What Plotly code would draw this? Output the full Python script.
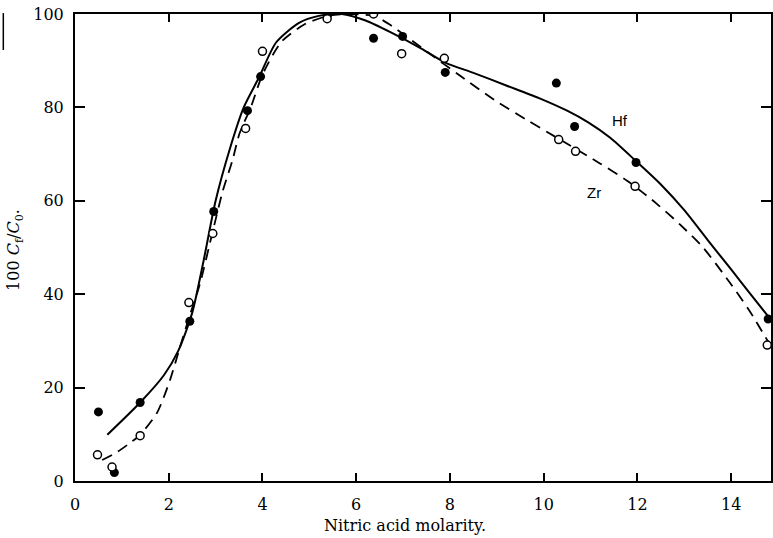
import plotly.graph_objects as go

# Measured points (filled = Hf, open = Zr)
hf_x = [0.5, 0.84, 1.39, 2.45, 2.96, 3.68, 3.96, 5.4, 6.37, 6.99, 7.9, 10.27, 10.66, 11.97, 14.79]
hf_y = [14.8, 1.8, 16.8, 34.2, 57.7, 79.3, 86.6, 100, 94.8, 95.2, 87.5, 85.2, 75.9, 68.2, 34.7]
zr_x = [0.48, 0.79, 1.39, 2.43, 2.94, 3.64, 4.0, 5.38, 6.37, 6.97, 7.88, 10.32, 10.68, 11.95, 14.77]
zr_y = [5.6, 3.0, 9.7, 38.2, 53, 75.5, 92, 99, 100, 91.5, 90.5, 73.1, 70.6, 63.1, 29.1]

# Hand-drawn smooth curves
hf_curve_x = [0.69, 1.39, 1.9, 2.2, 2.5, 2.75, 3.0, 3.3, 3.6, 3.93, 4.29, 4.78, 5.2, 5.69,
              6.2, 6.75, 7.39, 7.9, 8.5, 9.2, 9.9, 10.5, 10.95, 11.42, 11.97, 12.5, 13.0, 13.5,
              14.0, 14.4, 14.85]
hf_curve_y = [9.9, 16.8, 22.7, 27.8, 36.0, 47.5, 60.0, 71.0, 80.0, 86.5, 93.9, 98.1, 99.6, 100,
              98.6, 96, 92.6, 89.6, 87.4, 84.7, 82.0, 79.3, 76.8, 73.5, 68.5, 63.5, 58.0, 51.6,
              45.3, 40.2, 34.5]
zr_curve_x = [0.58, 0.9, 1.18, 1.39, 1.75, 2.03, 2.24, 2.45, 2.66, 2.94, 3.15, 3.36, 3.51, 3.75, 4.0,
              4.4, 4.9, 5.4, 5.9, 6.4, 6.75, 7.54, 8.24, 8.96, 9.66, 10.3, 11.2, 11.78, 12.42,
              12.9, 13.4, 13.97, 14.4, 14.85]
zr_curve_y = [4.5, 6.2, 8.2, 9.9, 14.6, 21.7, 28.7, 35.5, 42, 53.5, 62, 68.7, 74.4, 80, 87,
              94, 97.8, 99.6, 100, 99.5, 97.5, 91.7, 86.6, 81.5, 77.2, 73.4, 68.0, 64.3, 59.3,
              55.0, 50.0, 42.5, 36.3, 28.8]

x_ticks = [0, 2, 4, 6, 8, 10, 12, 14]
y_ticks = [0, 20, 40, 60, 80, 100]

fig = go.Figure()
fig.add_trace(go.Scatter(x=hf_curve_x, y=hf_curve_y, mode="lines",
                         line=dict(color="black", width=2, shape="spline", smoothing=0.7),
                         hoverinfo="skip"))
fig.add_trace(go.Scatter(x=zr_curve_x, y=zr_curve_y, mode="lines",
                         line=dict(color="black", width=1.8, shape="spline", smoothing=0.7, dash="11px,7px"),
                         hoverinfo="skip"))
fig.add_trace(go.Scatter(x=hf_x, y=hf_y, mode="markers", name="Hf",
                         marker=dict(symbol="circle", size=9, color="black")))
fig.add_trace(go.Scatter(x=zr_x, y=zr_y, mode="markers", name="Zr",
                         marker=dict(symbol="circle", size=8, color="white",
                                     line=dict(color="black", width=1.5))))

axis_common = dict(showgrid=False, zeroline=False, showline=True, linecolor="black", linewidth=2,
                   mirror="ticks", ticks="inside", tickcolor="black", tickwidth=1.5,
                   tickfont=dict(family="DejaVu Serif", size=16, color="black"))

fig.update_xaxes(range=[0, 14.85], tickvals=x_ticks, ticktext=[str(v) for v in x_ticks],
                 ticklen=8, ticklabelstandoff=8, **axis_common)
fig.update_yaxes(range=[0, 100], tickvals=y_ticks, ticktext=[str(v) for v in y_ticks],
                 ticklen=10, ticklabelstandoff=6, **axis_common)

fig.add_annotation(text="Nitric acid molarity.", xref="paper", yref="paper", x=0.474, y=-0.096,
                   showarrow=False, xanchor="center", yanchor="middle",
                   font=dict(family="DejaVu Serif", size=16, color="black"))
fig.add_annotation(text="100 <i>C</i><sub>f</sub>/<i>C</i><sub>0</sub>.", xref="paper", yref="paper",
                   x=-0.086, y=0.495, textangle=-90, showarrow=False, xanchor="center", yanchor="middle",
                   font=dict(family="DejaVu Serif", size=16, color="black"))
fig.add_annotation(text="Hf", x=11.63, y=77.2, showarrow=False,
                   font=dict(family="Liberation Sans", size=15, color="black"))
fig.add_annotation(text="Zr", x=11.08, y=61.8, showarrow=False,
                   font=dict(family="Liberation Sans", size=15, color="black"))

fig.add_shape(type="line", xref="paper", yref="paper", x0=-0.103, x1=-0.103, y0=1.002, y1=0.923,
              line=dict(color="black", width=1.5))

fig.update_layout(width=773, height=538, margin=dict(l=75, r=0, t=14, b=57),
                  paper_bgcolor="white", plot_bgcolor="white", showlegend=False)

fig.write_html("out.html", config={"displayModeBar": False},
               post_script="document.body.style.margin='0';document.body.style.overflow='hidden';")
